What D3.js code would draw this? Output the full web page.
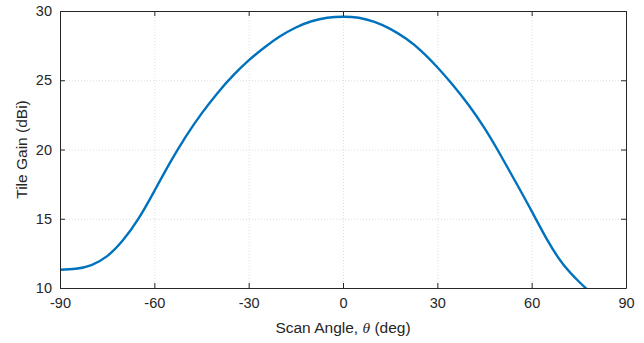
<!DOCTYPE html>
<html lang="en">
<head>
<meta charset="utf-8">
<title>Tile Gain vs Scan Angle</title>
<script src="https://cdn.jsdelivr.net/npm/d3@7"></script>
<style>
  body { margin: 0; background: #fff; }
  svg text { font-family: "Liberation Sans", Arial, Helvetica, sans-serif; fill: #262626; }
</style>
</head>
<body>
<script>
// scan angle (deg) and tile gain (dBi)
var angles = [-90, -85, -80, -75, -70, -65, -60, -55, -50, -45, -40, -35, -30, -25, -20, -15, -10, -5,
              0, 5, 10, 15, 20, 25, 30, 35, 40, 45, 50, 55, 60, 65, 70, 75, 78];
var gains = [11.32, 11.39, 11.66, 12.3, 13.44, 15.02, 17.0, 19.05, 20.93, 22.59, 24.05, 25.33, 26.43, 27.37, 28.17, 28.81, 29.26, 29.51,
             29.59, 29.51, 29.21, 28.71, 28.01, 27.09, 25.94, 24.64, 23.19, 21.54, 19.64, 17.62, 15.55, 13.45, 11.72, 10.47, 9.82];
var xTicks = [-90, -60, -30, 0, 30, 60, 90];
var yTicks = [10, 15, 20, 25, 30];

var w = 644, h = 343;
var padL = 60, padR = 626, padT = 11, padB = 288;

var x = d3.scaleLinear().domain([-90, 90]).range([padL, padR]);
var y = d3.scaleLinear().domain([10, 30]).range([padB, padT]);

var svg = d3.select("body").append("svg")
            .attr("width", w)
            .attr("height", h);

svg.append("defs").append("clipPath").attr("id", "plotArea")
   .append("rect")
   .attr("x", padL).attr("y", padT)
   .attr("width", padR - padL).attr("height", padB - padT);

// grid
svg.append("g").selectAll("line")
   .data(xTicks.slice(1, -1))
   .enter().append("line")
   .attr("x1", function(d) { return x(d) + 0.5; })
   .attr("x2", function(d) { return x(d) + 0.5; })
   .attr("y1", padT).attr("y2", padB)
   .attr("stroke", "#dedede")
   .attr("stroke-dasharray", "1,2");

svg.append("g").selectAll("line")
   .data(yTicks.slice(1, -1))
   .enter().append("line")
   .attr("y1", function(d) { return y(d) + 0.5; })
   .attr("y2", function(d) { return y(d) + 0.5; })
   .attr("x1", padL).attr("x2", padR)
   .attr("stroke", "#dedede")
   .attr("stroke-dasharray", "1,2");

// curve
var line = d3.line()
             .x(function(d, i) { return x(angles[i]); })
             .y(function(d) { return y(d); })
             .curve(d3.curveNatural);

svg.append("path")
   .datum(gains)
   .attr("d", line)
   .attr("clip-path", "url(#plotArea)")
   .attr("fill", "none")
   .attr("stroke", "#0072BD")
   .attr("stroke-width", 2.4);

// axes, ticks inward, box closed on all sides
var tickLen = 5;
var fmt = function(d) { return String(d); };
svg.append("g")
   .attr("transform", "translate(0," + padB + ")")
   .call(d3.axisBottom(x).tickValues(xTicks).tickSizeInner(-tickLen).tickSizeOuter(0).tickPadding(10).tickFormat(fmt));
svg.append("g")
   .attr("transform", "translate(0," + padT + ")")
   .call(d3.axisTop(x).tickValues(xTicks).tickSizeInner(-tickLen).tickSizeOuter(0).tickFormat(""));
svg.append("g")
   .attr("transform", "translate(" + padL + ",0)")
   .call(d3.axisLeft(y).tickValues(yTicks).tickSizeInner(-tickLen).tickSizeOuter(0).tickPadding(8).tickFormat(fmt));
svg.append("g")
   .attr("transform", "translate(" + padR + ",0)")
   .call(d3.axisRight(y).tickValues(yTicks).tickSizeInner(-tickLen).tickSizeOuter(0).tickFormat(""));

svg.selectAll(".domain").attr("stroke", "#262626");
svg.selectAll(".tick line").attr("stroke", "#262626");
svg.selectAll(".tick text")
   .attr("font-family", "Liberation Sans, Arial, sans-serif")
   .attr("font-size", "14.5px")
   .attr("fill", "#262626");

// labels
var xl = svg.append("text")
            .attr("x", (padL + padR) / 2)
            .attr("y", 333)
            .attr("text-anchor", "middle")
            .attr("font-size", "15.5px");
xl.append("tspan").text("Scan Angle, ");
xl.append("tspan").text("\u03b8").attr("font-style", "italic")
  .attr("style", "font-family: 'Liberation Serif', 'DejaVu Serif', serif");
xl.append("tspan").text(" (deg)");

svg.append("text")
   .attr("transform", "translate(27," + ((padT + padB) / 2) + ") rotate(-90)")
   .attr("text-anchor", "middle")
   .attr("font-size", "15.5px")
   .text("Tile Gain (dBi)");
</script>
</body>
</html>
